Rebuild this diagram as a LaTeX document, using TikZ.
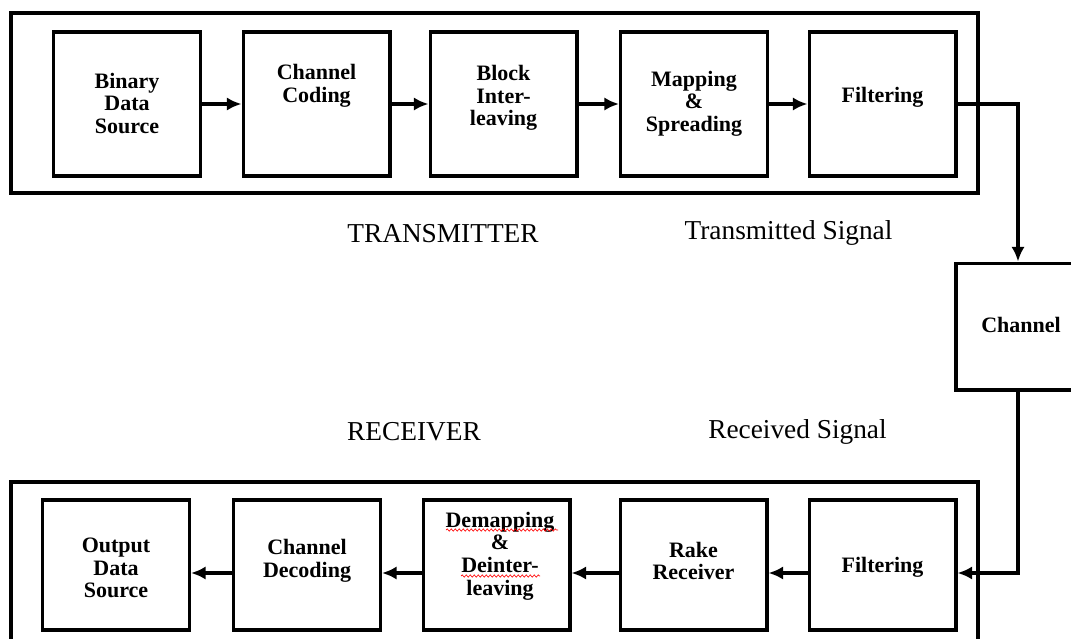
\documentclass[tikz,border=0pt]{standalone}
\usepackage{fontspec}
\setmainfont{Liberation Serif}
\usetikzlibrary{arrows.meta,decorations.pathmorphing}
\begin{document}
\begin{tikzpicture}[x=0.75pt,y=-0.75pt,
  outerbox/.style={draw, line width=3.6pt},
  blk/.style={draw, line width=2.5pt, minimum width=110pt, minimum height=108pt, inner sep=0pt},
  blkb/.style={blk, minimum height=97.5pt},
  txt/.style={font=\bfseries\fontsize{16.5}{17}\selectfont, align=center, inner sep=0pt},
  lbl/.style={font=\fontsize{20.5}{22}\selectfont, inner sep=0pt},
  arr/.style={line width=3pt, -{Latex[length=11pt,width=10pt]}},
  spell/.style={draw=red, line width=0.5pt, decorate, decoration={snake, amplitude=0.8pt, segment length=3pt}}
]
\useasboundingbox (0,0) rectangle (1071,639);
\clip (0,0) rectangle (1071,639);
\fill[white] (0,0) rectangle (1071,639);

% outer frames
\draw[outerbox] (11,13) rectangle (978,193);
\draw[outerbox] (11,482) rectangle (978,700);

% transmitter blocks
\node[blk] (t1) at (127,104) {};
\node[blk] (t2) at (316.5,104) {};
\node[blk] (t3) at (503.5,104) {};
\node[blk] (t4) at (694,104) {};
\node[blk] (t5) at (882.5,104) {};
\node[txt] (t1t) at (127,103.5) {Binary\\Data\\Source};
\node[txt] (t2t) at (316.5,86) {Channel\\Coding};
\node[txt] (t3t) at (503.5,98) {Block\\Inter-\\leaving};
\node[txt] (t4t) at (694,103.5) {Mapping\\\&\\Spreading};
\node[txt] (t5t) at (882.5,97) {Filtering};

% channel
\node[draw, line width=2.5pt, minimum width=93pt, minimum height=95pt, inner sep=0pt] (ch) at (1018,326.5) {};
\node[txt] (cht) at (1021,325) {Channel};

% receiver blocks
\node[blkb] (b1) at (116,565) {};
\node[blkb] (b2) at (307,565) {};
\node[blkb] (b3) at (496.5,565) {};
\node[blkb] (b4) at (693.5,565) {};
\node[blkb] (b5) at (882.5,565) {};
\node[txt] (b1t) at (116,568) {Output\\Data\\Source};
\node[txt] (b2t) at (307,561) {Channel\\Decoding};
\node[txt] (b3t) at (500,556) {Demapping\\\&\\Deinter-\\leaving};
\node[txt] (b4t) at (693.5,561) {Rake\\Receiver};
\node[txt] (b5t) at (882.5,567) {Filtering};

% spell-check underlines
\draw[spell] (446,530) -- (558,530);
\draw[spell] (461,576) -- (540,576);

% labels
\node[lbl] (ltx) at (443,234) {TRANSMITTER};
\node[lbl] (lts) at (788.5,233) {Transmitted Signal};
\node[lbl] (lrx) at (414,432) {RECEIVER};
\node[lbl] (lrs) at (797.5,432) {Received Signal};

% connectors
\draw[arr] (t1) -- (t2);
\draw[arr] (t2) -- (t3);
\draw[arr] (t3) -- (t4);
\draw[arr] (t4) -- (t5);
\draw[arr] (t5.east) -| (ch.north);
\draw[arr] (ch.south) |- ([yshift=-6pt]b5.east);
\draw[arr] ([yshift=-6pt]b5.west) -- ([yshift=-6pt]b4.east);
\draw[arr] ([yshift=-6pt]b4.west) -- ([yshift=-6pt]b3.east);
\draw[arr] ([yshift=-6pt]b3.west) -- ([yshift=-6pt]b2.east);
\draw[arr] ([yshift=-6pt]b2.west) -- ([yshift=-6pt]b1.east);
\end{tikzpicture}
\end{document}
